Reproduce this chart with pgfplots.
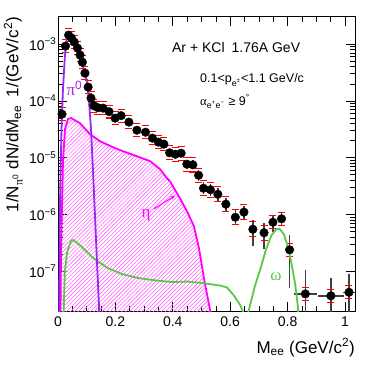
\documentclass[border=0pt]{standalone}
\usepackage{fontspec}
\setmainfont{Liberation Sans}
\newfontfamily\grk{Liberation Serif}
\usepackage{pgfplots}
\pgfplotsset{compat=1.18}
\usetikzlibrary{patterns.meta}
\definecolor{pizero}{RGB}{155,40,240}
\definecolor{etac}{RGB}{255,0,255}
\definecolor{omg}{RGB}{90,200,70}
\colorlet{hatchc}{etac!60}

% x, y, x error, stat (relative +/-), syst (relative +/-)
\pgfplotstableread{
x      y        ex     sp    sm    rp    rm
0.014  5.85e-5  0      0.10  0.10  0.30  0.23
0.026  9.2e-4   0      0.10  0.10  0.30  0.23
0.037  1.44e-3  0      0.10  0.10  0.30  0.23
0.047  1.28e-3  0      0.10  0.10  0.30  0.23
0.057  1.08e-3  0      0.10  0.10  0.30  0.23
0.068  8.5e-4   0      0.10  0.10  0.30  0.23
0.077  6.4e-4   0      0.10  0.10  0.30  0.23
0.085  4.8e-4   0      0.10  0.10  0.30  0.23
0.094  3.08e-4  0      0.10  0.10  0.30  0.23
0.105  1.75e-4  0      0.10  0.10  0.30  0.23
0.115  1.12e-4  0      0.10  0.10  0.30  0.23
0.125  8.2e-5   0      0.10  0.10  0.30  0.23
0.139  7.6e-5   0      0.10  0.10  0.30  0.23
0.157  7.45e-5  0      0.10  0.10  0.30  0.23
0.178  6.47e-5  0      0.10  0.10  0.30  0.23
0.199  4.97e-5  0      0.10  0.10  0.30  0.23
0.220  5.5e-5   0      0.10  0.10  0.30  0.23
0.247  4.23e-5  0      0.10  0.10  0.30  0.23
0.275  3.05e-5  0      0.10  0.10  0.30  0.23
0.305  2.81e-5  0      0.10  0.10  0.30  0.23
0.329  2.21e-5  0      0.10  0.10  0.30  0.23
0.350  1.88e-5  0      0.10  0.10  0.30  0.23
0.369  1.73e-5  0      0.10  0.10  0.30  0.23
0.389  1.22e-5  0      0.15  0.13  0.33  0.25
0.409  1.15e-5  0      0.15  0.13  0.33  0.25
0.429  1.2e-5   0      0.15  0.13  0.33  0.25
0.449  7.7e-6   0      0.20  0.17  0.33  0.25
0.470  7.5e-6   0      0.20  0.17  0.33  0.25
0.490  4.9e-6   0      0.25  0.20  0.33  0.25
0.507  2.9e-6   0      0.28  0.22  0.35  0.26
0.531  2.73e-6  0      0.28  0.22  0.35  0.26
0.557  2.27e-6  0      0.30  0.23  0.35  0.26
0.585  1.52e-6  0      0.30  0.23  0.35  0.26
0.618  8.95e-7  0      0.32  0.25  0.35  0.26
0.648  1.1e-6   0      0.30  0.23  0.35  0.26
0.679  5.5e-7   0      0.45  0.50  0.35  0.26
0.718  4.77e-7  0      0.49  0.49  0.35  0.26
0.749  7.3e-7   0      0.37  0.32  0.30  0.23
0.779  8.4e-7   0      0.30  0.25  0.30  0.23
0.807  2.39e-7  0      0.85  0.79  0.30  0.23
0.862  4.0e-8   0.040  1.67  0.99  0.30  0.23
0.951  3.7e-8   0.045  1.05  0.99  0.30  0.23
1.014  4.27e-8  0.021  1.09  0.99  0.30  0.23
}\dataee

\pgfplotstableread{
x       y
0.0070  1e-9
0.0087  1.9e-8
0.0105  2.2e-7
0.0174  8.7e-6
0.0244  3.2e-5
0.0348  4.8e-5
0.0453  5.0e-5
0.0767  4.05e-5
0.1115  2.6e-5
0.1463  1.95e-5
0.1916  1.53e-5
0.2265  1.3e-5
0.2753  1.06e-5
0.3206  8.7e-6
0.3554  6.3e-6
0.3798  4.35e-6
0.3902  3.85e-6
0.4251  1.93e-6
0.4495  1.14e-6
0.4739  6.2e-7
0.4913  2.54e-7
0.5087  7.5e-8
0.5314  1.9e-8
0.5350  1e-9
}\etatab

\pgfplotstableread{
x      y
0.002  1e-9
0.007  1.7e-6
0.012  2.9e-5
0.017  1.5e-4
0.024  6.1e-4
0.031  1.33e-3
0.038  1.6e-3
0.049  1.44e-3
0.059  1.08e-3
0.080  5.4e-4
0.101  2.24e-4
0.108  1.0e-4
0.115  3.2e-5
0.122  5.8e-6
0.129  9.3e-7
0.136  1.4e-7
0.143  2.4e-8
0.147  1e-9
}\pitab

\pgfplotstableread{
x      y
0.012  1e-9
0.024  1.0e-7
0.032  2.2e-7
0.045  3.4e-7
0.054  3.55e-7
0.080  2.77e-7
0.128  1.62e-7
0.175  1.13e-7
0.222  8.96e-8
0.280  7.6e-8
0.338  6.93e-8
0.396  6.47e-8
0.450  6.6e-8
0.508  6.17e-8
0.566  5.6e-8
0.589  5.2e-8
0.612  3.8e-8
0.635  2.55e-8
0.645  1.9e-8
0.652  1e-8
0.663  1.9e-8
0.686  5.45e-8
0.706  1.13e-7
0.725  2.44e-7
0.744  4.31e-7
0.761  5.5e-7
0.772  5.6e-7
0.787  4.49e-7
0.801  2.76e-7
0.812  1.5e-7
0.826  6.2e-8
0.836  2.4e-8
0.843  1e-9
}\omtab

\begin{document}
\begin{tikzpicture}
\begin{axis}[
 scale only axis, width=297pt, height=294pt,
 ymode=log, xmin=0, xmax=1.035, ymin=2e-8, ymax=3e-3,
 xtick={0,0.2,0.4,0.6,0.8,1}, xticklabels={0,0.2,0.4,0.6,0.8,1},
 minor x tick num=3,
 ytick={1e-7,1e-6,1e-5,1e-4,1e-3},
 yticklabels={10\textsuperscript{−7},10\textsuperscript{−6},10\textsuperscript{−5},10\textsuperscript{−4},10\textsuperscript{−3}},
 tick align=inside, major tick length=9pt, minor tick length=5pt,
 tick style={black,line width=0.6pt},
 axis line style={line width=1pt},
 ticklabel style={font=\fontsize{14}{16}\selectfont},
 yticklabel style={inner sep=1.5pt},
 xticklabel style={yshift=-2pt},
 xlabel={M\textsubscript{ee} (GeV/c\textsuperscript{2})},
 xlabel style={at={(rel axis cs:1,-0.143)},anchor=base east,inner sep=0pt,font=\fontsize{17}{19}\selectfont},
 ylabel={1/N\textsubscript{{\grk π}\textsuperscript{0}} dN/dM\textsubscript{ee}\enspace 1/(GeV/c\textsuperscript{2})},
 ylabel style={at={(rel axis cs:-0.133,1)},anchor=base east,inner sep=0pt,font=\fontsize{17}{19}\selectfont},
]
\coordinate (sw) at (rel axis cs:0,0);
\addplot[hatchc,draw=none,pattern color=hatchc,
 pattern={Lines[angle=45,distance=2.8pt,line width=0.6pt]}] table {\etatab};
\addplot[black,only marks,mark=*,mark size=4.3pt,
 error bars/.cd,x dir=both,x explicit,y dir=both,y explicit relative,
 error mark=none,error bar style={black!75,line width=1.5pt}]
 table[x=x,y=y,x error=ex,y error plus=sp,y error minus=sm] {\dataee};
\addplot[draw=none,mark=none,
 error bars/.cd,y dir=both,y explicit relative,
 error bar style={draw opacity=0},
 error mark options={red,draw opacity=1,line width=1.2pt,mark size=3.5pt,rotate=90}]
 table[x=x,y=y,y error plus=rp,y error minus=rm] {\dataee};
\addplot[etac,line width=1.8pt] table {\etatab};
\addplot[omg,line width=1.8pt] table {\omtab};
\addplot[pizero,line width=1.8pt] table {\pitab};
\node[pizero,font=\fontsize{17}{19}\selectfont] at (axis cs:0.057,1.64e-4) {{\grk π}\textsuperscript{0}};
\node[etac,font=\fontsize{17}{19}\selectfont] at (axis cs:0.307,9.8e-7) {\grk η};
\draw[etac,line width=1pt,-stealth] (axis cs:0.334,1.25e-6) -- (axis cs:0.408,2.15e-6);
\node[omg,font=\fontsize{17}{19}\selectfont] at (axis cs:0.760,7.94e-8) {\grk ω};
\node[anchor=base west,inner sep=0pt,font=\fontsize{14}{16}\selectfont] at (axis cs:0.397,7.03e-4) {Ar + KCl\enspace 1.76A GeV};
\node[anchor=base west,inner sep=0pt,font=\fontsize{12.5}{15}\selectfont] at (axis cs:0.495,2.08e-4) {0.1<p\textsubscript{e\textsuperscript{±}}<1.1 GeV/c};
\node[anchor=base west,inner sep=0pt,font=\fontsize{12.5}{15}\selectfont] at (axis cs:0.495,8.4e-5) {{\grk α}\textsubscript{e\textsuperscript{+}e\textsuperscript{−}} ≥ 9\textsuperscript{°}};
\end{axis}
\pgfresetboundingbox
\path[use as bounding box] ([xshift=-58pt,yshift=-63pt]sw) rectangle ++(374pt,374pt);
\end{tikzpicture}
\end{document}
